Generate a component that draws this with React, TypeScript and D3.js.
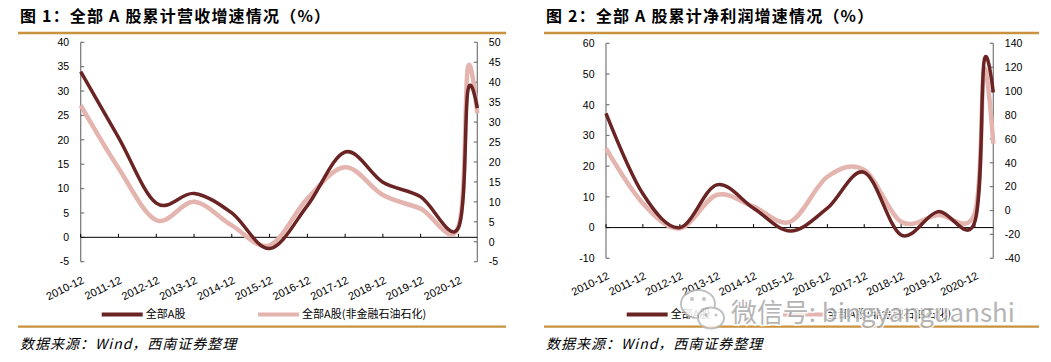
import React from 'react';
import * as d3 from 'd3';

// periods: annual year-end points, then 2021 Q1 and H1 (cumulative growth, %)
const periods = ['2010-12', '2011-12', '2012-12', '2013-12', '2014-12', '2015-12', '2016-12', '2017-12', '2018-12', '2019-12', '2020-12', '2021-03', '2021-06'];
const yearLabels = ['2010-12', '2011-12', '2012-12', '2013-12', '2014-12', '2015-12', '2016-12', '2017-12', '2018-12', '2019-12', '2020-12'];

// figure 1: revenue growth
const revenueAll = [34, 20.5, 7, 9, 5, -2.3, 6.5, 17.5, 11.3, 8.3, 2, 30, 26.5];
const revenueExFin = [34.2, 18.5, 5.4, 10, 4.1, -0.9, 10.8, 18.7, 11.7, 8.3, 3.8, 43.5, 32.2];

// figure 2: net profit growth
const profitAll = [37.2, 11, 0, 13.9, 6.3, -1.1, 6.3, 18, -2.4, 5.2, 2, 54, 44];
const profitExFin = [52, 6, -15, 13, 3.2, -9.4, 28.3, 34, -9.4, -3.8, -1.8, 118, 56];

const seriesNames = ['全部A股', '全部A股(非金融石油石化)'];
const titles = ['图 1：全部 A 股累计营收增速情况（%）', '图 2：全部 A 股累计净利润增速情况（%）'];
const sourceText = '数据来源：Wind，西南证券整理';

const DARK = '#6b2424';
const PINK = '#e4b4af';
const GOLD = '#c8923e';
const AXIS = '#777';
const LATIN = '"Liberation Sans", Arial, "Noto Sans CJK SC", sans-serif';
const CJK = '"Noto Sans CJK SC", "Liberation Sans", sans-serif';

const parse = d3.timeParse('%Y-%m');

type ChartProps = {
  title: string;
  titleX: number;
  rule: [number, number];
  plot: { left: number; right: number; top: number; bottom: number };
  leftDomain: [number, number];
  leftStep: number;
  rightDomain: [number, number];
  rightStep: number;
  main: number[];
  second: number[];
  legend: { dark: number; pink: number };
  labelDy: number;
};

function Chart(p: ChartProps) {
  const dates = periods.map(s => parse(s) as Date);
  const x = d3.scaleTime()
    .domain([dates[0], dates[dates.length - 1]])
    .range([p.plot.left, p.plot.right]);
  const yL = d3.scaleLinear().domain(p.leftDomain).range([p.plot.bottom, p.plot.top]);
  const yR = d3.scaleLinear().domain(p.rightDomain).range([p.plot.bottom, p.plot.top]);

  const leftTicks = d3.range(p.leftDomain[0], p.leftDomain[1] + 0.001, p.leftStep);
  const rightTicks = d3.range(p.rightDomain[0], p.rightDomain[1] + 0.001, p.rightStep);
  const yearTicks = yearLabels.map(s => parse(s) as Date);

  // Excel-style smoothed line
  const curve = d3.curveCardinal.tension(0);
  const lineL = d3.line<number>().x((_, i) => x(dates[i])).y(d => yL(d)).curve(curve);
  const lineR = d3.line<number>().x((_, i) => x(dates[i])).y(d => yR(d)).curve(curve);

  const zeroY = yL(0);
  const legendY = 314.5;

  return (
    <g>
      <text x={p.titleX} y={22} fontFamily={CJK} fontWeight="bold" fontSize={16} letterSpacing={1.2} fill="#000">
        {p.title}
      </text>
      <line x1={p.rule[0]} x2={p.rule[1]} y1={33} y2={33} stroke={GOLD} strokeWidth={2.5} />

      {/* left axis */}
      <line x1={p.plot.left} x2={p.plot.left} y1={p.plot.top} y2={p.plot.bottom} stroke={AXIS} strokeWidth={1.2} />
      {leftTicks.map(t => (
        <g key={'l' + t}>
          <line x1={p.plot.left} x2={p.plot.left + 3.5} y1={yL(t)} y2={yL(t)} stroke={AXIS} strokeWidth={1.2} />
          <text x={p.plot.left - 11.5} y={yL(t)} dy="0.36em" textAnchor="end" fontFamily={LATIN} fontSize={10.5} fill="#000">
            {t}
          </text>
        </g>
      ))}

      {/* right axis */}
      <line x1={p.plot.right} x2={p.plot.right} y1={p.plot.top} y2={p.plot.bottom} stroke={AXIS} strokeWidth={1.2} />
      {rightTicks.map(t => (
        <g key={'r' + t}>
          <line x1={p.plot.right - 3.5} x2={p.plot.right} y1={yR(t)} y2={yR(t)} stroke={AXIS} strokeWidth={1.2} />
          <text x={p.plot.right + 11.5} y={yR(t)} dy="0.36em" textAnchor="start" fontFamily={LATIN} fontSize={10.5} fill="#000">
            {t}
          </text>
        </g>
      ))}

      {/* category axis on zero line */}
      <line x1={p.plot.left} x2={p.plot.right} y1={zeroY} y2={zeroY} stroke="#000" strokeWidth={1} />
      {yearTicks.map((d, i) => (
        <g key={'x' + i}>
          <line x1={x(d)} x2={x(d)} y1={zeroY} y2={zeroY - 3.5} stroke="#000" strokeWidth={1} />
          <text
            transform={`translate(${x(d) + 4},${p.plot.bottom + p.labelDy}) rotate(-26)`}
            textAnchor="end"
            fontFamily={LATIN}
            fontSize={11}
            fill="#000"
          >
            {yearLabels[i]}
          </text>
        </g>
      ))}

      <path d={lineR(p.second) || ''} fill="none" stroke={PINK} strokeWidth={4.5} strokeLinejoin="round" />
      <path d={lineL(p.main) || ''} fill="none" stroke={DARK} strokeWidth={3.5} strokeLinejoin="round" />

      {/* legend */}
      <line x1={p.legend.dark} x2={p.legend.dark + 41} y1={legendY} y2={legendY} stroke={DARK} strokeWidth={4} />
      <text x={p.legend.dark + 44} y={legendY} dy="0.36em" fontFamily={CJK} fontSize={11} fill="#000">
        {seriesNames[0]}
      </text>
      <line x1={p.legend.pink} x2={p.legend.pink + 41} y1={legendY} y2={legendY} stroke={PINK} strokeWidth={4} />
      <text x={p.legend.pink + 44} y={legendY} dy="0.36em" fontFamily={CJK} fontSize={11} fill="#000">
        {seriesNames[1]}
      </text>

      <line x1={p.rule[0]} x2={p.rule[1]} y1={326.7} y2={326.7} stroke={GOLD} strokeWidth={2.2} />
      <text x={p.titleX} y={349} fontFamily={CJK} fontStyle="italic" fontSize={14} letterSpacing={1} fill="#000">
        {sourceText}
      </text>
    </g>
  );
}

function Watermark() {
  return (
    <g opacity={0.85}>
      <ellipse cx={698} cy={304} rx={17} ry={14} fill="#fff" stroke="#b8b8b8" strokeWidth={2} />
      <ellipse cx={711} cy={318} rx={13} ry={10.5} fill="#fff" stroke="#b8b8b8" strokeWidth={2} />
      <circle cx={692} cy={299} r={2} fill="#bbb" />
      <circle cx={704} cy={299} r={2} fill="#bbb" />
      <circle cx={706} cy={315} r={1.6} fill="#bbb" />
      <circle cx={716} cy={315} r={1.6} fill="#bbb" />
      <text
        x={731}
        y={322}
        fontFamily={CJK}
        fontSize={26}
        fill="#a9a9a9"
        stroke="#fff"
        strokeWidth={3}
        paintOrder="stroke"
        textLength={284}
        lengthAdjust="spacingAndGlyphs"
      >
        微信号: bingyanguanshi
      </text>
    </g>
  );
}

export default function App() {
  return (
    <svg
      width={1051}
      height={362}
      style={{ position: 'absolute', left: 0, top: 0, background: '#fff' }}
    >
      <rect width={1051} height={362} fill="#fff" />
      <Chart
        title={titles[0]}
        titleX={20}
        rule={[18, 506]}
        plot={{ left: 80.7, right: 477.3, top: 42.3, bottom: 261.7 }}
        leftDomain={[-5, 40]}
        leftStep={5}
        rightDomain={[-5, 50]}
        rightStep={5}
        main={revenueAll}
        second={revenueExFin}
        legend={{ dark: 101.7, pink: 258 }}
        labelDy={21}
      />
      <Chart
        title={titles[1]}
        titleX={546}
        rule={[544, 1039]}
        plot={{ left: 606, right: 993.3, top: 43.3, bottom: 258.3 }}
        leftDomain={[-10, 60]}
        leftStep={10}
        rightDomain={[-40, 140]}
        rightStep={20}
        main={profitAll}
        second={profitExFin}
        legend={{ dark: 626.7, pink: 783 }}
        labelDy={20}
      />
      <Watermark />
    </svg>
  );
}
